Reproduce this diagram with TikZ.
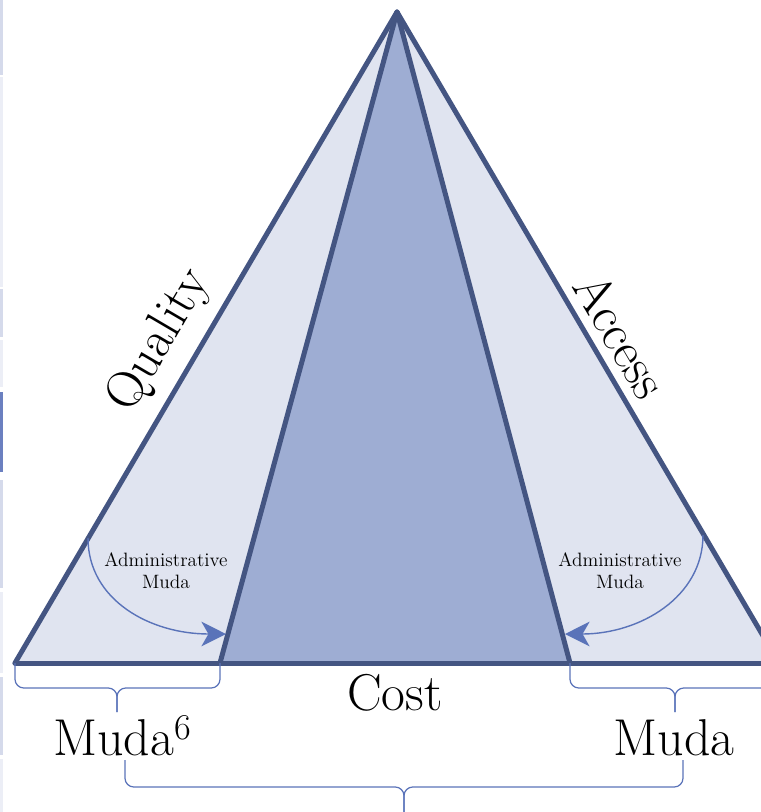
\documentclass[tikz,border=0pt]{standalone}
\usepackage{xcolor}
\usepackage{tikz}
\usetikzlibrary{arrows.meta,positioning}

\definecolor{edgeblue}{HTML}{445582}
\definecolor{sidefill}{HTML}{E0E4F0}
\definecolor{corefill}{HTML}{9EADD3}
\definecolor{notecol}{HTML}{5A73B9}
\definecolor{stripea}{HTML}{D5DAEB}
\definecolor{stripeb}{HTML}{ECEEF6}
\definecolor{stripec}{HTML}{6B80C0}

\tikzset{
    edge/.style={line width=0.1cm, draw=edgeblue, line join=round, line cap=round},
    bigtext/.style={font=\fontsize{29.5}{33}\selectfont, inner sep=2pt},
    notetext/.style={font=\fontsize{11}{12.5}\selectfont, align=center, inner sep=0pt},
    notearrow/.style={draw=notecol, line width=0.8pt, -{Stealth[length=14pt,width=14pt,inset=4pt]}},
    bracket/.style={draw=notecol, line width=0.7pt, rounded corners=5pt}
}

\begin{document}
\begin{tikzpicture}[x=0.02cm, y=-0.02cm]
                \useasboundingbox (0,0) rectangle (761,812);
                \clip (0,0) rectangle (761,812);

                \foreach \ya/\yb/\col in {0/75/stripea, 77/287/stripeb, 289/337/stripea,
                    340/387/stripeb, 392/472/stripec, 480/588/stripea, 592/673/stripeb,
                    677/755/stripea, 759/812/stripeb}
                    \fill[\col] (0,\ya) rectangle (3,\yb);

                \coordinate (top) at (397,12);
                \coordinate (outl) at (15,663);
                \coordinate (outr) at (779,663);
                \coordinate (inl) at (220,663);
                \coordinate (inr) at (570,663);

                \fill[sidefill] (outl) -- (top) -- (outr) -- cycle;
                \fill[corefill] (inl) -- (top) -- (inr) -- cycle;

                \draw[edge] (outl) -- (top)
                    node[pos=0.465, sloped, above=5pt, bigtext] (quality) {Quality};
                \draw[edge] (top) -- (outr)
                    node[pos=0.52, sloped, above=3pt, bigtext] (access) {Access};
                \draw[edge] (inl) -- (top) -- (inr);
                \draw[edge] (outl) -- (outr);

                \node[notetext] (admleft) at (166,571) {Administrative\\Muda};
                \node[notetext] (admright) at (620,571) {Administrative\\Muda};

                \coordinate (qa) at (88,538);
                \coordinate (qb) at (226,634);
                \coordinate (ra) at (703,535);
                \coordinate (rb) at (565,634);

                \draw[notearrow] (qa) .. controls (88,600) and (150,634) .. (qb);
                \draw[notearrow] (ra) .. controls (703,597) and (640,634) .. (rb);

                \coordinate (ltip) at (117,712);
                \coordinate (rtip) at (675,712);
                \coordinate (btip) at (404,815);

                \draw[bracket] (outl) -- (15,688) -- (117,688) -- (ltip);
                \draw[bracket] (inl) -- (220,688) -- (117,688) -- (ltip);
                \draw[bracket] (inr) -- (570,688) -- (675,688) -- (rtip);
                \draw[bracket] (outr) -- (779,688) -- (675,688) -- (rtip);

                \draw[bracket] (125,760) -- (125,787) -- (404,787) -- (btip);
                \draw[bracket] (683,760) -- (683,787) -- (404,787) -- (btip);

                \node[bigtext, anchor=base] (cost) at (395,710) {Cost};
                \node[bigtext, anchor=base west, inner sep=0pt] (mudaleft) at (53,755) {Muda\textsuperscript{6}};
                \node[bigtext, anchor=base, inner sep=0pt] (mudaright) at (674,755) {Muda};

            \end{tikzpicture}
\end{document}
